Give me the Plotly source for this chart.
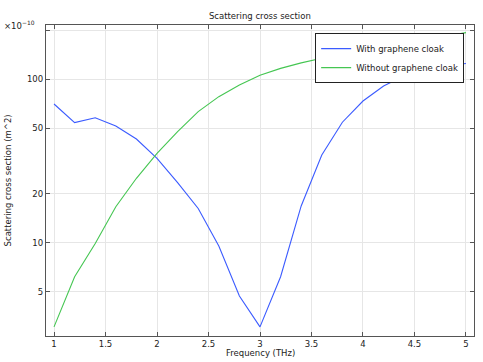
import plotly.graph_objects as go

freq = [1.0, 1.2, 1.4, 1.6, 1.8, 2.0, 2.2, 2.4, 2.6, 2.8, 3.0,
        3.2, 3.4, 3.6, 3.8, 4.0, 4.2, 4.4, 4.6, 4.8, 5.0]
with_cloak = [70.6, 54.3, 58.2, 51.8, 43.1, 32.8, 23.3, 16.2, 9.55, 4.72, 3.06,
              6.2, 16.8, 34.4, 54.6, 73.6, 91, 105, 115, 121, 125]
without_cloak = [3.06, 6.2, 9.9, 16.6, 24.8, 35.2, 47.9, 63.4, 78.3, 92.3, 105.8,
                 116.6, 126, 134.5, 142, 150, 158, 166, 174, 183, 193]
y_ticks = [5, 10, 20, 50, 100, 200]
y_ticktext = ["5", "10", "20", "50", "100", ""]
x_ticks = [1, 1.5, 2, 2.5, 3, 3.5, 4, 4.5, 5]
x_ticktext = ["1", "1.5", "2", "2.5", "3", "3.5", "4", "4.5", "5"]

FS = 8.5
fig = go.Figure()
fig.add_trace(go.Scatter(x=freq, y=with_cloak, mode="lines", name="With graphene cloak",
                         line=dict(color="#3b5bff", width=1.1)))
fig.add_trace(go.Scatter(x=freq, y=without_cloak, mode="lines", name="Without graphene cloak",
                         line=dict(color="#45c652", width=1.1)))

axis_common = dict(showline=True, linecolor="#555555", linewidth=1.2, mirror="ticks",
                   ticks="inside", ticklen=4, tickcolor="#555555",
                   showgrid=True, gridcolor="#e6e6e6", gridwidth=1, zeroline=False,
                   automargin=False,
                   tickfont=dict(family="DejaVu Sans", size=FS, color="#222222"))

fig.update_layout(
    width=483, height=362,
    margin=dict(l=46, r=9, t=25, b=26),
    paper_bgcolor="white", plot_bgcolor="white",
    font=dict(family="DejaVu Sans", size=FS, color="#222222"),
    title=dict(text="Scattering cross section", x=0.538, xanchor="center", y=0.956, yanchor="middle",
               font=dict(size=FS, family="DejaVu Sans")),
    xaxis=dict(range=[0.922, 5.078], tickvals=x_ticks, ticktext=x_ticktext, **axis_common),
    yaxis=dict(type="log", range=[0.4297, 2.332], tickvals=y_ticks, ticktext=y_ticktext,
               **axis_common),
    legend=dict(x=0.977, y=0.974, xanchor="right", yanchor="top",
                bgcolor="white", bordercolor="#222222", borderwidth=1,
                font=dict(size=FS, family="DejaVu Sans"), tracegroupgap=0,
                itemwidth=30),
    showlegend=True,
)
fig.add_annotation(text="×10<sup>−10</sup>", xref="paper", yref="paper",
                   x=-0.022, y=1.0, xanchor="right", yanchor="middle", showarrow=False,
                   font=dict(size=FS, family="DejaVu Sans", color="#222222"))
fig.add_annotation(text="Frequency (THz)", xref="paper", yref="paper",
                   x=0.5, y=-0.054, xanchor="center", yanchor="middle", showarrow=False,
                   font=dict(size=FS, family="DejaVu Sans", color="#222222"))
fig.add_annotation(text="Scattering cross section (m^2)", xref="paper", yref="paper",
                   x=-0.089, y=0.5, xanchor="center", yanchor="middle", showarrow=False,
                   textangle=-90,
                   font=dict(size=FS, family="DejaVu Sans", color="#222222"))

fig.write_html("out.html", config={"displayModeBar": False},
               post_script="document.body.style.margin='0';document.body.style.overflow='hidden';")
